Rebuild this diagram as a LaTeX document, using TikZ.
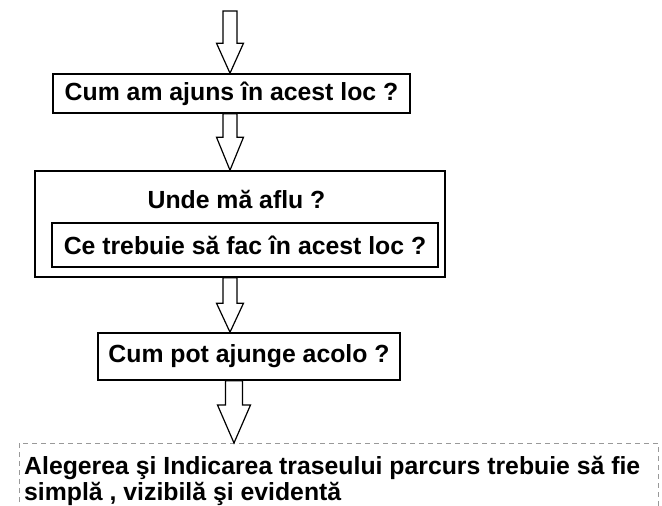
\documentclass[tikz,border=0pt]{standalone}
\usepackage{fontspec}
\setmainfont{Liberation Sans}
\usetikzlibrary{calc}
\tikzset{
  qfont/.style={font=\fontsize{24.8}{29}\selectfont\bfseries},
  box/.style={draw, line width=1.6pt, inner sep=0pt, qfont},
  label/.style={inner sep=0pt, qfont},
  hollow/.style={draw, line width=1.2pt, fill=white, line join=miter},
  frame/.style={draw=gray!80, line width=0.8pt, dash pattern=on 5pt off 4pt},
  goaltext/.style={inner sep=0pt, anchor=base west, qfont}
}
% block arrow: #1 top point, #2 tip, #3 shaft half width, #4 head half width, #5 head length
\newcommand{\blockarrow}[5]{%
  \draw[hollow] let \p1=(#1), \p2=(#2) in
    (\x1-#3,\y1) -- (\x1-#3,\y2+#5) -- (\x1-#4,\y2+#5) -- (\x1,\y2)
    -- (\x1+#4,\y2+#5) -- (\x1+#3,\y2+#5) -- (\x1+#3,\y1) -- cycle;}
\begin{document}
\begin{tikzpicture}[x=1pt,y=-1pt]
\useasboundingbox (0,0) rectangle (662,506);
\clip (0,0) rectangle (662,506);

% question boxes
\node[box, minimum width=357pt, minimum height=39pt] (arrive) at (231.5,93.5) {Cum am ajuns în acest loc ?};
\node[box, minimum width=410pt, minimum height=106pt] (where) at (240,224) {};
\node[label] (wheretxt) at (236.5,200) {Unde mă aflu ?};
\node[box, minimum width=386pt, minimum height=44pt] (todo) at (245,245) {Ce trebuie să fac în acest loc ?};
\node[box, minimum width=302pt, minimum height=47pt] (reach) at (249,356.5) {Cum pot ajunge acolo ?};

% dashed frame, open at the bottom, and the conclusion inside it
\coordinate (frameTL) at (19,443);
\coordinate (frameTR) at (658,443);
\draw[frame] (frameTL |- 0,520) -- (frameTL) -- (frameTR) -- (frameTR |- 0,520);
\node[goaltext] (goal) at (24,474) {Alegerea şi Indicarea traseului parcurs trebuie să fie};
\node[goaltext] (goal2) at (24,500) {simplă , vizibilă şi evidentă};

% arrow anchors
\coordinate (start) at (230,11);
\coordinate (t1) at (230,112);
\coordinate (h1) at (230,170);
\coordinate (t2) at (230,277);
\coordinate (h2) at (230,334);
\coordinate (t3) at (234,380);
\coordinate (h3) at (234,442);

\blockarrow{start}{arrive.north -| start}{7pt}{13.5pt}{30pt}
\blockarrow{arrive.south -| t1}{where.north -| h1}{7pt}{13.5pt}{33pt}
\blockarrow{where.south -| t2}{reach.north -| h2}{7pt}{13.5pt}{29pt}
\blockarrow{reach.south -| t3}{frameTL -| h3}{8.5pt}{16.5pt}{38pt}
\end{tikzpicture}
\end{document}
